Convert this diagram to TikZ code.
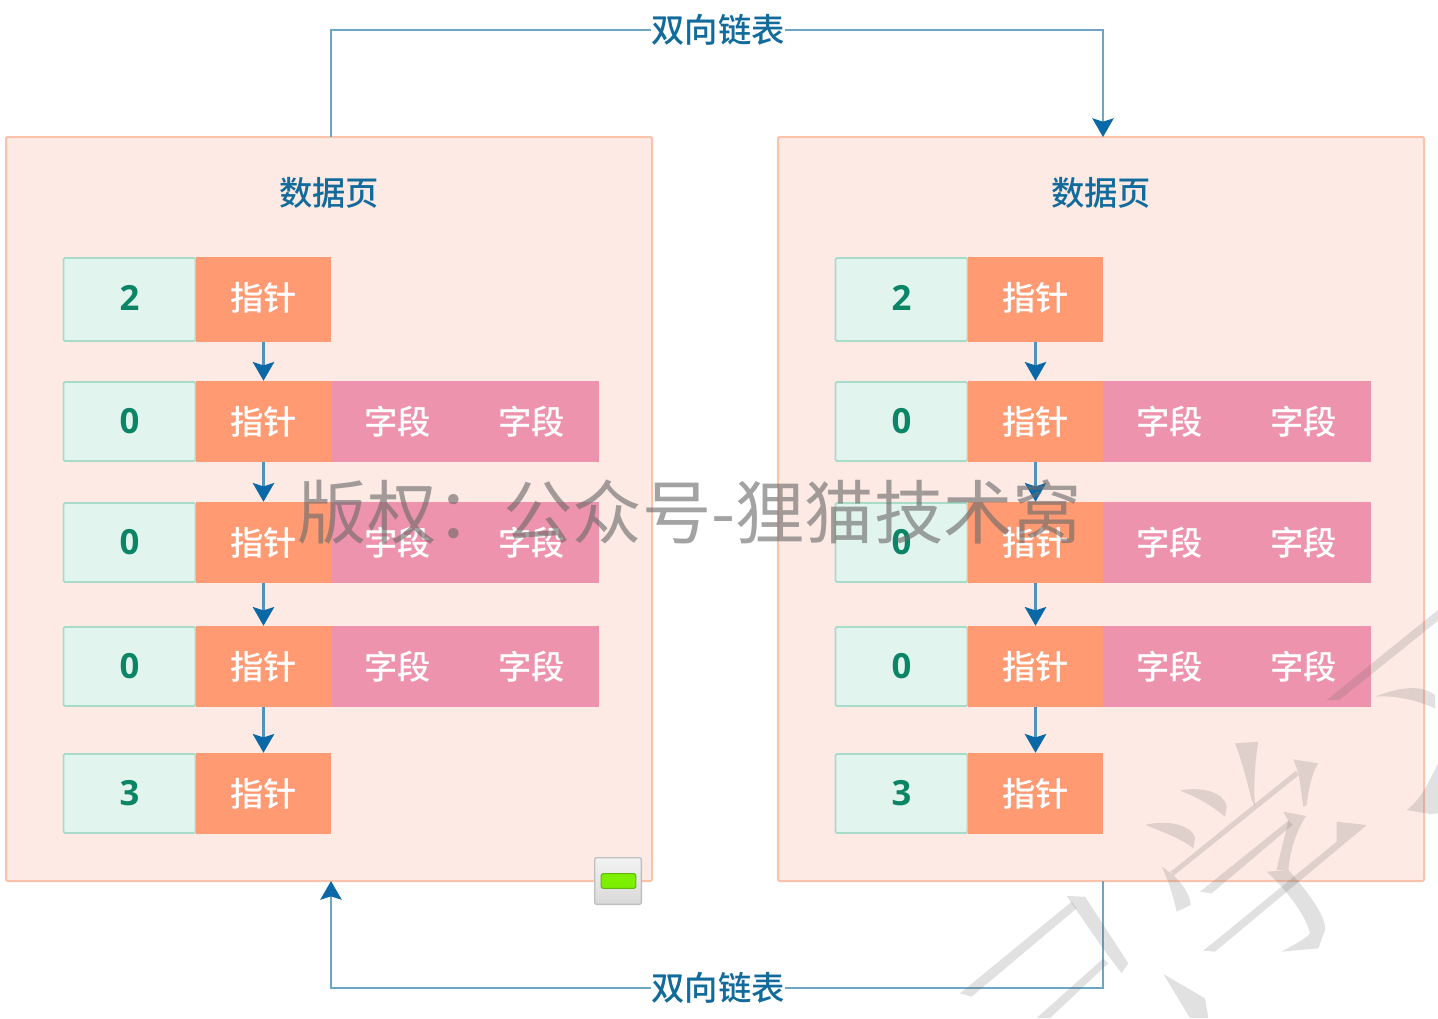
\documentclass[tikz,border=0pt]{standalone}
\usepackage{fontspec}
\setmainfont{Noto Sans CJK SC}
\newfontfamily\digitfont{Open Sans}
\newfontfamily\cellfont{Noto Sans CJK SC Medium}
\newfontfamily\headfont{Noto Sans CJK SC Medium}
\usetikzlibrary{arrows.meta,calc}
\definecolor{panelfill}{HTML}{FDEAE4}
\definecolor{paneledge}{HTML}{FBC3AC}
\definecolor{numfill}{HTML}{E2F4EE}
\definecolor{numedge}{HTML}{A8DCC8}
\definecolor{numtext}{HTML}{0B8565}
\definecolor{ptrfill}{HTML}{FF9A73}
\definecolor{fieldfill}{HTML}{EE93AE}
\definecolor{linkblue}{HTML}{6CA6C4}
\definecolor{rowblue}{HTML}{4F93BE}
\definecolor{tipblue}{HTML}{0A68A6}
\definecolor{titleblue}{HTML}{126B9B}
\definecolor{wmgray}{HTML}{6A6A6A}
\definecolor{barfill}{HTML}{7CF000}
\definecolor{baredge}{HTML}{62B80A}
\tikzset{
  panelbox/.style={draw=paneledge,fill=panelfill,line width=1.5pt,rounded corners=1pt,minimum width=484.5pt,minimum height=558pt,inner sep=0pt},
  numbox/.style={draw=numedge,fill=numfill,line width=1.4pt,rounded corners=1pt,inner sep=0pt,minimum width=99pt,text=numtext,font=\digitfont\bfseries\fontsize{26}{26}\selectfont},
  ptrbox/.style={fill=ptrfill,inner sep=0pt,minimum width=101pt,text=white,font=\cellfont\fontsize{25}{25}\selectfont},
  fieldbox/.style={fill=fieldfill,inner sep=0pt,minimum width=101.5pt,text=white,font=\cellfont\fontsize{25}{25}\selectfont},
  titletext/.style={text=titleblue,font=\headfont\fontsize{25}{25}\selectfont,inner sep=0pt},
  linktext/.style={text=titleblue,font=\headfont\fontsize{25}{25}\selectfont,inner sep=0pt,minimum height=20pt},
  rowline/.style={draw=rowblue,line width=2pt,-{Stealth[length=14pt,width=16pt,inset=2.5pt,color=tipblue]}},
  linkline/.style={draw=linkblue,line width=1.5pt,-{Stealth[length=14pt,width=16pt,inset=2.5pt,color=tipblue]}},
  plainlink/.style={draw=linkblue,line width=1.5pt},
  wmstroke/.style={fill=wmgray,fill opacity=.2,draw=none},
}
\begin{document}
\begin{tikzpicture}[x=.75pt,y=-.75pt]
\useasboundingbox (0,0) rectangle (1438,1018);
% panels
\node[panelbox] (PL) at (329,509) {};
\node[panelbox] (PR) at (1101,509) {};
\node[titletext] (TL) at (329,193) {数据页};
\node[titletext] (TR) at (1101,193) {数据页};
% rows
\foreach \p/\dx in {L/0,R/772}{
  \foreach \r/\yc/\hh/\num/\hasf/\up in {1/299.5/85/2/0/3pt,2/421.5/81/0/1/0pt,3/542.5/81/0/1/0pt,4/666.5/81/0/1/0pt,5/793.5/81/3/0/0pt}{
    \ifnum\hasf=1
      \node[fieldbox,minimum height=\hh*.75pt] (F\p\r a) at ({397.5+\dx},\yc) {\raisebox{1pt}{字段}};
      \node[fieldbox,minimum height=\hh*.75pt] (F\p\r b) at ({531.5+\dx},\yc) {\raisebox{1pt}{字段}};
    \fi
    \node[numbox,minimum height={(\hh-2)*.75pt}] (N\p\r) at ({129.5+\dx},\yc) {\raisebox{\up}{\num}};
    \node[ptrbox,minimum height=\hh*.75pt] (A\p\r) at ({263.5+\dx},\yc) {\raisebox{\dimexpr1pt+\up\relax}{指针}};
  }
  \foreach \a/\b in {1/2,2/3,3/4,4/5}{
    \draw[rowline] (A\p\a.south) -- (A\p\b.north);
  }
}
% links between pages
\node[linktext] (LT) at (718,30) {双向链表};
\node[linktext] (LB) at (718,988) {双向链表};
\coordinate (PLtop) at (331,137);
\coordinate (PRtop) at (1103,137);
\coordinate (PLbot) at (331,881);
\coordinate (PRbot) at (1103,881);
\draw[plainlink] (PLtop) |- (LT.west);
\draw[linkline] (LT.east) -| (PRtop);
\draw[plainlink] (PRbot) |- (LB.east);
\draw[linkline] (LB.west) -| (PLbot);
% collapse button
\node[draw=black!25,rounded corners=1.5pt,inner sep=0pt,minimum width=35pt,minimum height=35pt,top color=white!95!black,bottom color=white!85!black,line width=1pt] (BTN) at (618,881) {};
\node[draw=baredge,fill=barfill,rounded corners=1.5pt,inner sep=0pt,minimum width=26pt,minimum height=11pt,line width=.8pt] (BAR) at (618.5,881) {};
% watermark text
\node[text=wmgray,text opacity=.62,font=\fontsize{52}{52}\selectfont,inner sep=0pt] (WM) at (690,512) {版权：\hspace{-2pt}公众号-狸猫技术窝};
% large watermark strokes
\begin{scope}[shift={(960,600)},x=.25pt,y=-.25pt]
\fill[wmstroke] (1434,30) -- (1100,300) -- (1138,300) -- (1434,62) -- cycle;
\fill[wmstroke] (1245,290) .. controls (1310,265) and (1380,250) .. (1425,285) -- (1425,325) .. controls (1370,300) and (1300,285) .. (1245,290) -- cycle;
\fill[wmstroke] (1434,490) .. controls (1400,560) and (1380,600) .. (1340,630) -- (1410,642) -- (1434,640) -- cycle;
\fill[wmstroke] (825,430) -- (895,425) .. controls (885,480) and (880,560) .. (885,618) -- (875,600) .. controls (860,540) and (845,480) .. (825,430) -- cycle;
\fill[wmstroke] (660,572) .. controls (710,560) and (790,570) .. (800,620) -- (795,650) .. controls (760,620) and (710,590) .. (660,572) -- cycle;
\fill[wmstroke] (555,675) .. controls (610,660) and (695,670) .. (705,715) -- (700,745) .. controls (670,720) and (610,695) .. (555,675) -- cycle;
% long stroke with head
\fill[wmstroke] (632,815) -- (1008,512) -- (1018,524) -- (642,826) -- cycle;
\fill[wmstroke] (1000,478) -- (1075,490) .. controls (1055,520) and (1045,570) .. (1040,615) -- (1030,620) -- (1016,520) -- cycle;
% hook below it
\fill[wmstroke] (605,800) -- (637,822) .. controls (665,850) and (690,880) .. (692,915) -- (650,935) .. controls (640,890) and (625,840) .. (605,800) -- cycle;
% second stroke with head
\fill[wmstroke] (720,875) -- (985,662) -- (998,674) -- (755,880) -- cycle;
\fill[wmstroke] (970,635) -- (1038,648) .. controls (1010,690) and (990,750) .. (985,810) -- (950,810) .. controls (960,760) and (975,710) .. (985,662) -- cycle;
% third stroke with head and hook
\fill[wmstroke] (730,1052) -- (1130,725) -- (1130,665) -- (1220,675) -- (765,1055) -- cycle;
\fill[wmstroke] (920,815) -- (985,810) .. controls (1040,870) and (1100,950) .. (1095,990) -- (1075,1045) -- (965,1055) .. controls (1000,1035) and (1040,1015) .. (1050,1000) .. controls (1040,950) and (980,870) .. (920,815) -- cycle;
% lower-left figure
\fill[wmstroke] (0,1180) -- (335,905) -- (350,925) -- (35,1190) -- cycle;
\fill[wmstroke] (320,888) -- (375,890) -- (505,1090) -- (485,1120) -- (425,1040) -- cycle;
\fill[wmstroke] (230,1254) -- (430,1075) -- (445,1090) -- (270,1254) -- cycle;
\fill[wmstroke] (610,1122) -- (735,1195) -- (745,1254) -- (690,1254) -- cycle;
\end{scope}
\end{tikzpicture}
\end{document}
